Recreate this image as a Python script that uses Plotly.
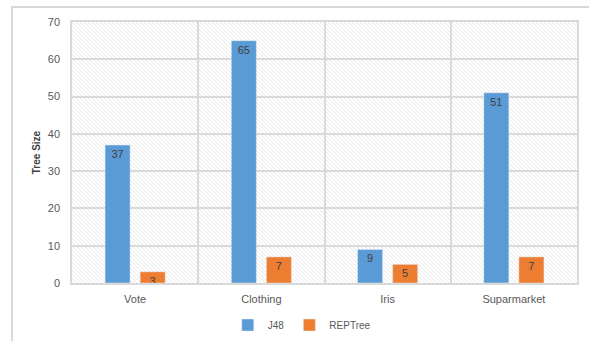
import plotly.graph_objects as go
import base64

categories = ["Vote", "Clothing", "Iris", "Suparmarket"]
j48_values = [37, 65, 9, 51]
rep_values = [3, 7, 5, 7]
series_names = ["J48", "REPTree"]
y_ticks = [0, 10, 20, 30, 40, 50, 60, 70]

W, H = 589, 341
L, R, T, B = 72, 12, 22, 58
pw, ph = W - L - R, H - T - B

svg = f'''<svg xmlns="http://www.w3.org/2000/svg" width="{pw}" height="{ph}" viewBox="0 0 {pw} {ph}" preserveAspectRatio="none">
<defs><pattern id="p" width="4" height="4" patternUnits="userSpaceOnUse">
<rect width="4" height="4" fill="#ffffff"/>
<path d="M-1,-1 L5,5 M-1,3 L1,5 M3,-1 L5,1" stroke="#e2e2e2" stroke-width="0.8"/>
</pattern></defs>
<rect width="{pw}" height="{ph}" fill="url(#p)"/></svg>'''
bg = "data:image/svg+xml;base64," + base64.b64encode(svg.encode()).decode()

fig = go.Figure()
fig.add_trace(go.Bar(x=categories, y=j48_values, name=series_names[0],
                     marker=dict(color="#5b9bd5"), text=j48_values,
                     textposition="inside", insidetextanchor="end", textangle=0,
                     constraintext="none",
                     textfont=dict(color="#404040", size=11, family="Liberation Sans")))
fig.add_trace(go.Bar(x=categories, y=rep_values, name=series_names[1],
                     marker=dict(color="#ed7d31"), text=rep_values,
                     textposition="inside", insidetextanchor="end", textangle=0,
                     constraintext="none",
                     textfont=dict(color="#404040", size=11, family="Liberation Sans")))

fig.update_layout(
    width=W, height=H,
    margin=dict(l=L, r=R, t=T, b=B, autoexpand=False),
    paper_bgcolor="white", plot_bgcolor="rgba(0,0,0,0)",
    barmode="group", bargap=0.444, bargroupgap=0.286,
    font=dict(family="Liberation Sans", color="#595959", size=11),
    showlegend=True,
    legend=dict(orientation="h", x=0.455, xanchor="center", yref="container",
                y=1 - 325 / H, yanchor="middle",
                font=dict(size=10, color="#595959"), itemwidth=30, traceorder="normal"),
    images=[dict(source=bg, xref="paper", yref="paper", x=0, y=1, sizex=1, sizey=1,
                 sizing="stretch", layer="below", xanchor="left", yanchor="top")],
    shapes=[dict(type="path", xref="paper", yref="paper",
                 path=f"M {(12-L)/pw},{-0.5} L {(12-L)/pw},{1+(T-7)/ph} L 1.2,{1+(T-7)/ph}",
                 line=dict(color="#d9d9d9", width=2))],
)
fig.update_xaxes(tickson="boundaries", showgrid=True, gridcolor="#d9d9d9", gridwidth=1.5,
                 showline=True, linecolor="#d9d9d9", linewidth=2, mirror=True,
                 ticks="", ticklabelstandoff=5, automargin=False,
                 tickfont=dict(size=11, color="#595959"))
fig.update_yaxes(range=[0, 70], tickvals=y_ticks, showgrid=True, gridcolor="#d9d9d9",
                 gridwidth=1.5, showline=True, linecolor="#d9d9d9", linewidth=1.5, mirror=True,
                 zeroline=False, ticks="", ticklabelstandoff=8, automargin=False,
                 tickfont=dict(size=11, color="#595959"),
                 title=dict(text="<b>Tree Size</b>", font=dict(size=10, color="#404040"), standoff=5))

fig.write_html("out.html")
